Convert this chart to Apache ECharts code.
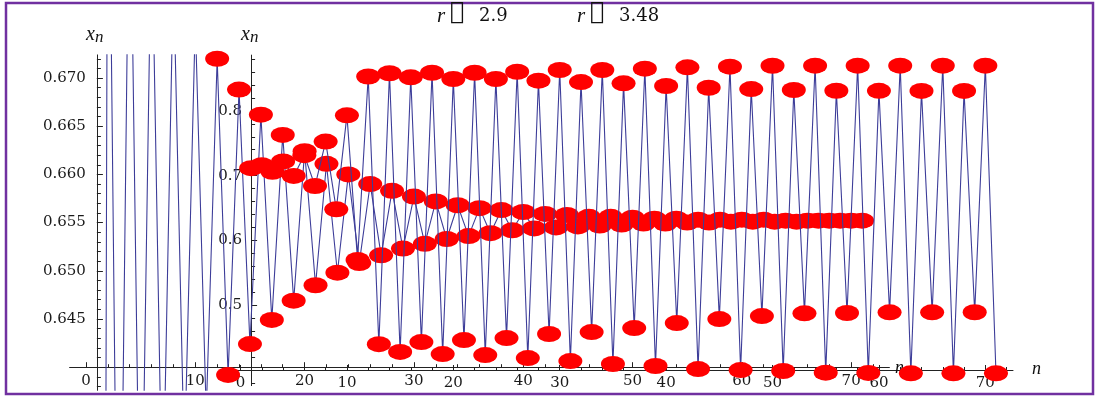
<!DOCTYPE html>
<html>
<head>
<meta charset="utf-8">
<script src="https://cdn.jsdelivr.net/npm/echarts@6/dist/echarts.min.js"></script>
<style>
html, body { margin: 0; padding: 0; background: #fff; }
#chart { width: 1096px; height: 396px; }
</style>
</head>
<body>
<div id="chart"></div>
<script>
// x_n for r = 2.9, n = 1..71
var xnA = [0.30, 0.7073, 0.6004, 0.6958, 0.6139, 0.6874, 0.6232, 0.6810, 0.6300, 0.6760,
  0.6352, 0.6720, 0.6392, 0.6688, 0.6424, 0.6662, 0.6449, 0.6641, 0.6469, 0.6624,
  0.6485, 0.6611, 0.6498, 0.6600, 0.6508, 0.6590, 0.6516, 0.6583, 0.6523, 0.6577,
  0.6528, 0.6572, 0.6533, 0.6568, 0.6536, 0.6565, 0.6539, 0.6563, 0.6542, 0.6561,
  0.6544, 0.6559, 0.6545, 0.6558, 0.6546, 0.6556, 0.6547, 0.6556, 0.6548, 0.6555,
  0.6549, 0.6554, 0.6549, 0.6554, 0.6550, 0.6553, 0.6550, 0.6553, 0.6551, 0.6553,
  0.6551, 0.6553, 0.6551, 0.6552, 0.6551, 0.6552, 0.6552, 0.6552, 0.6552, 0.6552, 0.6552];

// x_n for r = 3.48, n = 1..71
var xnB = [0.7115, 0.7160, 0.7060, 0.7220, 0.6995, 0.7316, 0.6840, 0.7525, 0.6480, 0.7930,
  0.5700, 0.8530, 0.4400, 0.8580, 0.4280, 0.8517, 0.4432, 0.8588, 0.4247, 0.8491,
  0.4463, 0.8588, 0.4231, 0.8491, 0.4494, 0.8603, 0.4185, 0.8465, 0.4556, 0.8630,
  0.4139, 0.8444, 0.4586, 0.8630, 0.4093, 0.8424, 0.4648, 0.8650, 0.4062, 0.8383,
  0.4725, 0.8671, 0.4015, 0.8356, 0.4787, 0.8681, 0.4000, 0.8336, 0.4833, 0.8696,
  0.3985, 0.8321, 0.4875, 0.8697, 0.3960, 0.8310, 0.4880, 0.8697, 0.3955, 0.8308,
  0.4890, 0.8697, 0.3950, 0.8307, 0.4890, 0.8697, 0.3950, 0.8307, 0.4892, 0.8697, 0.3950];

var nMajor = [0, 10, 20, 30, 40, 50, 60, 70];
var nMinor = [2, 4, 6, 8, 12, 14, 16, 18, 22, 24, 26, 28, 32, 34, 36, 38, 42, 44, 46, 48,
  52, 54, 56, 58, 62, 64, 66, 68, 72];
var aYLabels = [0.645, 0.650, 0.655, 0.660, 0.665, 0.670];
var aYMajor = [0.640, 0.645, 0.650, 0.655, 0.660, 0.665, 0.670];
var bYLabels = [0.5, 0.6, 0.7, 0.8];
var bYMajor = [0.4, 0.5, 0.6, 0.7, 0.8];

var aYMinor = [];
for (var i = 638; i <= 672; i++) aYMinor.push(i / 1000);
var bYMinor = [];
for (var j = 38; j <= 88; j += 2) bYMinor.push(j / 100);

// title pieces: r, the (unrendered) equal sign, value
var rValues = ['2.9', '3.48'];
var eqSign = '\uF431';

function pairs(arr) {
  return arr.map(function (v, i) { return [i + 1, v]; });
}

var axisColor = '#222';
var labelFont = { fontFamily: 'DejaVu Serif', fontSize: 15, color: '#1a1a1a' };

function hiddenAxis(grid, min, max) {
  return { type: 'value', gridIndex: grid, min: min, max: max, show: false };
}

function tickAxis(grid, pos, min, max, ticks, len, labels, fmt, margin, line) {
  return {
    type: 'value', gridIndex: grid, position: pos, min: min, max: max,
    axisLine: { show: line, lineStyle: { color: axisColor, width: 1 } },
    axisTick: { show: true, inside: true, length: len, customValues: ticks,
      lineStyle: { color: axisColor, width: 1 } },
    axisLabel: labels ? Object.assign({ show: true, customValues: labels, margin: margin,
      formatter: fmt }, labelFont) : { show: false },
    splitLine: { show: false }
  };
}

function titleParts(x, value) {
  return [
    { type: 'text', x: x, y: 16, z: 100,
      style: { text: 'r', font: 'italic 21px "Liberation Serif"', fill: '#111', verticalAlign: 'middle' } },
    { type: 'text', x: x + 13, y: 13, z: 100,
      style: { text: eqSign, font: '24px "DejaVu Serif"', fill: '#111', verticalAlign: 'middle' } },
    { type: 'text', x: x + 42, y: 16, z: 100,
      style: { text: value, font: '18px "DejaVu Serif"', fill: '#111', verticalAlign: 'middle' } }
  ];
}

var chart = echarts.init(document.getElementById('chart'));

var aMin = 0.6376, aMax = 0.6724;
var bMin = 0.376, bMax = 0.886;

var graphics = [
  { type: 'rect', shape: { x: 6, y: 3, width: 1087, height: 391 }, z: 100,
    style: { fill: 'none', stroke: '#7030a0', lineWidth: 2.5 } },
  { type: 'text', x: 86, y: 34.7, z: 100,
    style: { text: 'x', font: 'italic 20px "Liberation Serif"', fill: '#111', verticalAlign: 'middle' } },
  { type: 'text', x: 95, y: 37.5, z: 100,
    style: { text: 'n', font: 'italic 17px "Liberation Serif"', fill: '#111', verticalAlign: 'middle' } },
  { type: 'text', x: 241, y: 34.7, z: 100,
    style: { text: 'x', font: 'italic 20px "Liberation Serif"', fill: '#111', verticalAlign: 'middle' } },
  { type: 'text', x: 250, y: 37.5, z: 100,
    style: { text: 'n', font: 'italic 17px "Liberation Serif"', fill: '#111', verticalAlign: 'middle' } },
  { type: 'text', x: 895, y: 368, z: 1,
    style: { text: 'n', font: 'italic 18px "Liberation Serif"', fill: '#111', verticalAlign: 'middle' } },
  { type: 'text', x: 1032, y: 369.5, z: 100,
    style: { text: 'n', font: 'italic 18px "Liberation Serif"', fill: '#111', verticalAlign: 'middle' } }
].concat(titleParts(437, rValues[0]), titleParts(577, rValues[1]));

var option = {
  animation: false,
  backgroundColor: '#fff',
  grid: [
    { left: 69.6, top: 54.9, width: 819.8, height: 335.4, outerBoundsMode: 'none' },  // A data
    { left: 96.9, top: 54.9, width: 20, height: 335.4, outerBoundsMode: 'none' },     // A y axis
    { left: 69.6, top: 54.9, width: 819.8, height: 312.3, outerBoundsMode: 'none' },  // A n axis
    { left: 235.2, top: 55.1, width: 777.8, height: 330.5, outerBoundsMode: 'none' }, // B data
    { left: 251.1, top: 55.1, width: 20, height: 330.5, outerBoundsMode: 'none' },    // B y axis
    { left: 235.2, top: 55.1, width: 777.8, height: 314.9, outerBoundsMode: 'none' }  // B n axis
  ],
  xAxis: [
    hiddenAxis(0, -1.5, 73.5),
    hiddenAxis(1, 0, 1),
    tickAxis(2, 'bottom', -1.5, 73.5, nMajor, 5, nMajor, function (v) { return String(v); }, 6, true),
    tickAxis(2, 'bottom', -1.5, 73.5, nMinor, 3, null, null, 0, false),
    hiddenAxis(3, -0.5, 72.6),
    hiddenAxis(4, 0, 1),
    tickAxis(5, 'bottom', -0.5, 72.6, nMajor, 5, nMajor, function (v) { return String(v); }, 6, true),
    tickAxis(5, 'bottom', -0.5, 72.6, nMinor, 3, null, null, 0, false)
  ],
  yAxis: [
    hiddenAxis(0, aMin, aMax),
    tickAxis(1, 'left', aMin, aMax, aYMajor, 6, aYLabels, function (v) { return v.toFixed(3); }, 11, true),
    tickAxis(1, 'left', aMin, aMax, aYMinor, 4, null, null, 0, false),
    hiddenAxis(2, 0, 1),
    hiddenAxis(3, bMin, bMax),
    tickAxis(4, 'left', bMin, bMax, bYMajor, 6, bYLabels, function (v) { return v.toFixed(1); }, 9, true),
    tickAxis(4, 'left', bMin, bMax, bYMinor, 4, null, null, 0, false),
    hiddenAxis(5, 0, 1)
  ],
  series: [
    {
      name: 'r=2.9 line', type: 'line', xAxisIndex: 0, yAxisIndex: 0,
      data: pairs(xnA), showSymbol: false, z: 2,
      lineStyle: { color: '#3d3d99', width: 1.1 }
    },
    {
      name: 'r=2.9', type: 'scatter', xAxisIndex: 0, yAxisIndex: 0,
      data: pairs(xnA), symbol: 'circle', symbolSize: [24, 16], z: 3,
      itemStyle: { color: '#ff0000', opacity: 1 }
    },
    {
      name: 'r=3.48 line', type: 'line', xAxisIndex: 4, yAxisIndex: 4,
      data: pairs(xnB), showSymbol: false, z: 4,
      lineStyle: { color: '#3d3d99', width: 1.1 }
    },
    {
      name: 'r=3.48', type: 'scatter', xAxisIndex: 4, yAxisIndex: 4,
      data: pairs(xnB), symbol: 'circle', symbolSize: [24, 16], z: 5,
      itemStyle: { color: '#ff0000', opacity: 1 }
    }
  ],
  graphic: graphics
};

chart.setOption(option);
</script>
</body>
</html>
